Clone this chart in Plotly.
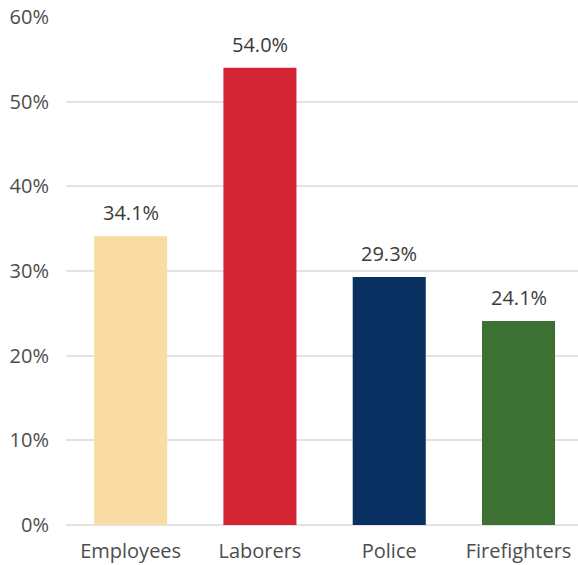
import plotly.graph_objects as go

categories = ["Employees", "Laborers", "Police", "Firefighters"]
values = [34.1, 54.0, 29.3, 24.1]
colors = ["#F9DCA4", "#D42535", "#0A2F61", "#3D7134"]
y_ticks = [0, 10, 20, 30, 40, 50, 60]
y_tick_labels = [f"{t}%" for t in y_ticks]

font_family = "Open Sans, Noto Sans, sans-serif"

fig = go.Figure(
    go.Bar(
        x=categories,
        y=values,
        marker=dict(color=colors, line=dict(width=0)),
        width=0.565,
        hoverinfo="x+y",
    )
)

# value labels above each bar
for cat, val in zip(categories, values):
    fig.add_annotation(
        x=cat,
        y=val,
        text=f"{val:.1f}%",
        showarrow=False,
        yanchor="bottom",
        yshift=8,
        font=dict(size=20, color="#3a3a3a", family=font_family),
    )

fig.update_layout(
    width=578,
    height=565,
    margin=dict(l=66, r=0, t=17, b=40),
    paper_bgcolor="white",
    plot_bgcolor="white",
    showlegend=False,
    font=dict(family=font_family, size=20, color="#4d4d4d"),
)

fig.update_xaxes(
    range=[-0.5, 3.46],
    showgrid=False,
    showline=False,
    zeroline=False,
    ticks="",
    ticklabelstandoff=12,
    tickfont=dict(size=20, color="#4d4d4d"),
)
fig.update_yaxes(
    range=[0, 60],
    tickvals=y_ticks,
    ticktext=y_tick_labels,
    showgrid=True,
    gridcolor="#e3e3e3",
    gridwidth=1.5,
    zeroline=True,
    zerolinecolor="#e3e3e3",
    zerolinewidth=1.5,
    showline=False,
    ticks="",
    ticklabelstandoff=16,
    tickfont=dict(size=20, color="#4d4d4d"),
)

fig.write_html("out.html")
